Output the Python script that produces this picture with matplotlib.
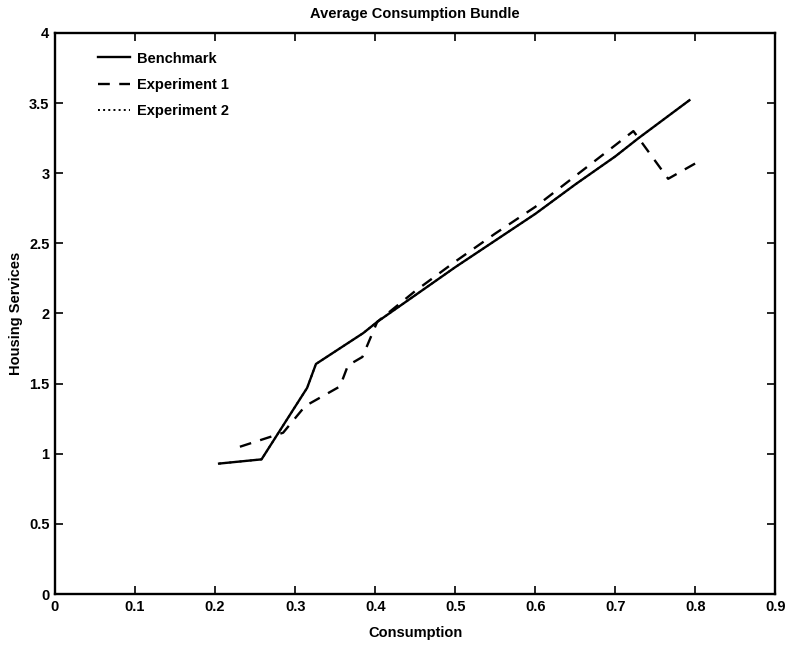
import matplotlib
matplotlib.use("Agg")
import matplotlib.pyplot as plt

# Data
bench_x = [0.205, 0.258, 0.315, 0.326, 0.385, 0.4025, 0.45, 0.50, 0.55, 0.60, 0.65, 0.70, 0.729, 0.7925]
bench_y = [0.93, 0.96, 1.47, 1.64, 1.86, 1.94, 2.13, 2.33, 2.52, 2.71, 2.92, 3.12, 3.25, 3.52]

exp1_x = [0.231, 0.285, 0.3125, 0.356, 0.366, 0.384, 0.4025, 0.45, 0.50, 0.55, 0.60, 0.65, 0.70, 0.7225, 0.729, 0.766, 0.80]
exp1_y = [1.05, 1.15, 1.34, 1.48, 1.63, 1.69, 1.94, 2.16, 2.37, 2.57, 2.76, 2.98, 3.20, 3.30, 3.25, 2.96, 3.07]

exp2_x = bench_x
exp2_y = bench_y

xticks = [0, 0.1, 0.2, 0.3, 0.4, 0.5, 0.6, 0.7, 0.8, 0.9]
xticklabels = ["0", "0.1", "0.2", "0.3", "0.4", "0.5", "0.6", "0.7", "0.8", "0.9"]
yticks = [0, 0.5, 1, 1.5, 2, 2.5, 3, 3.5, 4]
yticklabels = ["0", "0.5", "1", "1.5", "2", "2.5", "3", "3.5", "4"]

plt.rcParams['font.family'] = ['Liberation Sans', 'DejaVu Sans']
plt.rcParams['font.weight'] = 'bold'

fig = plt.figure(figsize=(7.9, 6.45), dpi=100)
ax = fig.add_axes([0.0696, 0.079, 0.912, 0.870])

ax.plot(exp2_x, exp2_y, color='black', linestyle=':', linewidth=1.4, label='Experiment 2', zorder=1)
ax.plot(bench_x, bench_y, color='black', linestyle='-', linewidth=1.7, label='Benchmark', zorder=3)
ax.plot(exp1_x, exp1_y, color='black', linestyle=(0, (5, 4)), linewidth=1.7, label='Experiment 1', zorder=2)

ax.set_xlim(0, 0.9)
ax.set_ylim(0, 4)
ax.set_xticks(xticks)
ax.set_xticklabels(xticklabels)
ax.set_yticks(yticks)
ax.set_yticklabels(yticklabels)
ax.tick_params(direction='in', length=6, width=1.2, top=True, right=True,
               labelsize=10.5, pad=4)
for s in ax.spines.values():
    s.set_linewidth(1.7)

ax.set_title("Average Consumption Bundle", fontsize=10.5, pad=11, fontweight='bold')
ax.set_xlabel("Consumption", fontsize=10.5, labelpad=9, fontweight='bold')
ax.set_ylabel("Housing Services", fontsize=10.5, labelpad=4, fontweight='bold')

handles, labels = ax.get_legend_handles_labels()
order = [1, 2, 0]
ax.legend([handles[i] for i in order], [labels[i] for i in order],
          loc='upper left', frameon=False, fontsize=10.5,
          handlelength=2.2, handletextpad=0.5, labelspacing=0.85,
          borderaxespad=0.3, bbox_to_anchor=(0.045, 0.985))

fig.savefig("out.png", dpi=100)
